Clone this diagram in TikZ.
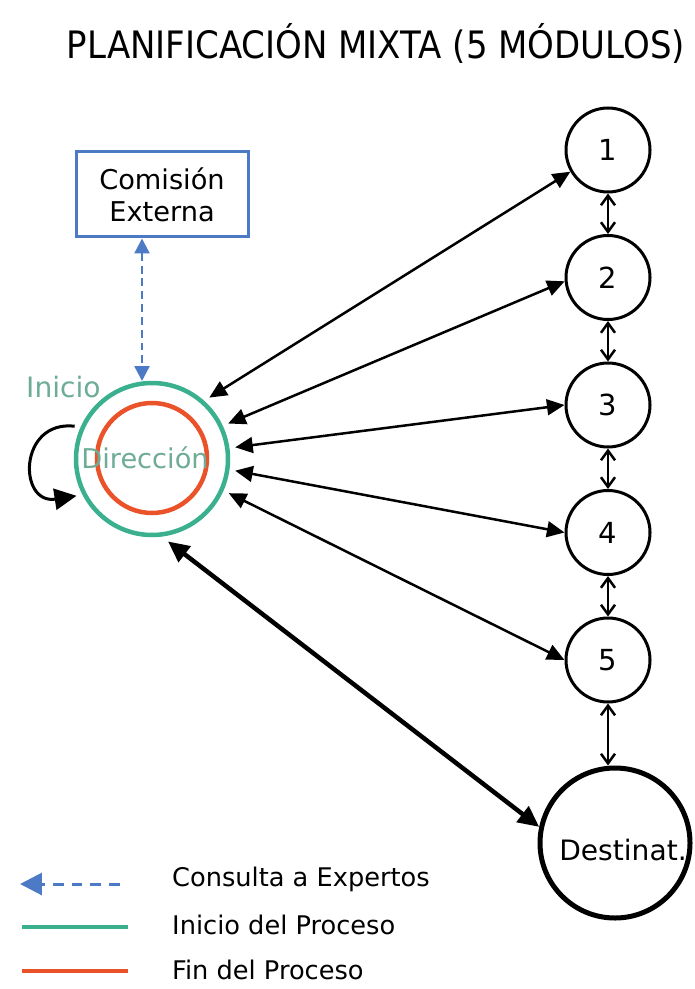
\documentclass[tikz,border=0pt]{standalone}
\usepackage{fontspec}
\setmainfont{DejaVu Sans}
\newfontfamily\titlefont{DejaVu Sans}[FakeStretch=0.9]
\usetikzlibrary{arrows.meta}

\definecolor{inigreen}{RGB}{58,176,142}
\definecolor{finred}{RGB}{234,82,42}
\definecolor{expblue}{RGB}{76,122,196}
\definecolor{dirtext}{RGB}{110,172,150}

\newlength\pixel
\setlength\pixel{0.02cm}

\tikzset{
  modulo/.style={circle,draw,line width=3\pixel,minimum size=84\pixel,inner sep=0pt,font=\fontsize{16.5}{20}\selectfont},
  dirflecha/.style={line width=2.5\pixel,{Triangle[length=10pt,width=9pt]}-{Triangle[length=10pt,width=9pt]}},
  destflecha/.style={line width=4.5\pixel,{Triangle[length=12pt,width=11pt]}-{Triangle[length=12pt,width=11pt]}},
  modflecha/.style={line width=2.5\pixel,{Straight Barb[length=5.5pt,width=8pt]}-{Straight Barb[length=5.5pt,width=8pt]}},
  consulta/.style={expblue,line width=2.5\pixel,dash pattern=on 4.5pt off 2.8pt,{Triangle[length=8.5pt,width=8.5pt]}-{Triangle[length=8.5pt,width=8.5pt]}},
  leyenda/.style={anchor=west,font=\fontsize{14.6}{17}\selectfont}
}

\begin{document}
\begin{tikzpicture}[x=0.02cm,y=-0.02cm]
\useasboundingbox (0,0) rectangle (695,989);

% Titulo
\node[font=\titlefont\fontsize{21.5}{25}\selectfont] (titulo) at (376,43) {PLANIFICACIÓN MIXTA (5 MÓDULOS)};

% Comision externa
\node[draw=expblue,line width=3\pixel,minimum width=172\pixel,minimum height=85\pixel,align=center,font=\fontsize{15.5}{18}\selectfont] (comision) at (162,194.5) {Comisión\\Externa};

% Direccion (inicio y fin)
\node[circle,draw=inigreen,line width=4.5\pixel,minimum size=152\pixel,inner sep=0pt,outer sep=8\pixel] (dir) at (152,459) {};
\node[circle,draw=finred,line width=4.5\pixel,minimum size=110\pixel,inner sep=0pt] (fin) at (152,458) {};
\node[text=dirtext,font=\fontsize{15.5}{18}\selectfont] (dirtexto) at (145,458) {Dirección};
\node[text=dirtext,anchor=west,font=\fontsize{16}{18}\selectfont] (inicio) at (20,387) {Inicio};
\coordinate (dirtop) at (142,381);

% Modulos
\foreach \i/\y in {1/150,2/277.5,3/405,4/532.5,5/660}
  \node[modulo] (m\i) at (608,\y) {\i};

% Destinatarios
\node[modulo,line width=5\pixel,minimum size=150\pixel] (dest) at (615,843) {};
\node[font=\fontsize{16}{20}\selectfont] (desttexto) at (623,850) {Destinat.};

% Consulta a expertos
\draw[consulta] (comision.south -| dirtop) -- (dirtop);

% Lazo de la direccion
\draw[line width=3\pixel,-{Triangle[length=12.5pt,width=12pt]}] (dir.157) .. controls (18,420) and (18,505) .. (dir.206);

% Direccion <-> modulos
\foreach \a/\m/\b in {47/1/210,25/2/185,8/3/180,-8/4/180,-24/5/180}
  \draw[dirflecha] (dir.\a) -- (m\m.\b);
\draw[destflecha] (dir.-79) -- (dest.168);

% Modulo <-> modulo
\foreach \i/\j in {1/2,2/3,3/4,4/5}
  \draw[modflecha] (m\i) -- (m\j);
\draw[modflecha] (m5.south) -- (m5.south |- dest.north);

% Leyenda
\coordinate (leyA) at (120,884);
\coordinate (leyB) at (20,884);
\draw[expblue,line width=3\pixel,dash pattern=on 6.2pt off 4.5pt,-{Triangle[length=12.5pt,width=12.5pt]}] (leyA) -- (leyB);
\node[leyenda] (ley1) at (166,879) {Consulta a Expertos};
\coordinate (leyC) at (22,927);
\coordinate (leyD) at (128,927);
\draw[inigreen,line width=4\pixel] (leyC) -- (leyD);
\node[leyenda] (ley2) at (166,925) {Inicio del Proceso};
\coordinate (leyE) at (22,971);
\coordinate (leyF) at (128,971);
\draw[finred,line width=4\pixel] (leyE) -- (leyF);
\node[leyenda] (ley3) at (166,970) {Fin del Proceso};
\end{tikzpicture}
\end{document}
